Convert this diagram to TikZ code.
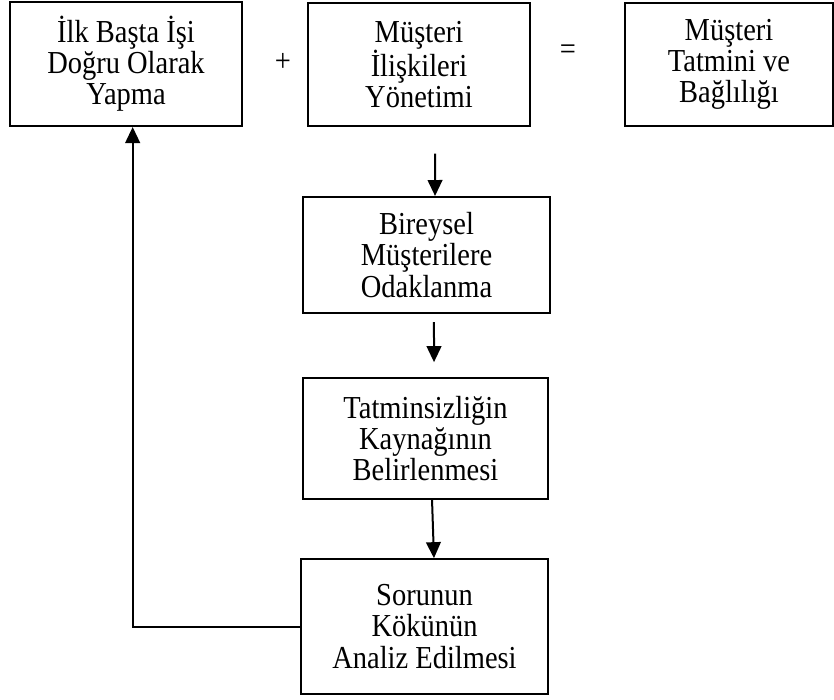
\documentclass[tikz,border=0pt]{standalone}
\usepackage{fontspec}
\setmainfont[FakeStretch=0.89]{Liberation Serif}
\usetikzlibrary{arrows.meta}
\tikzset{
  kutu/.style={draw=black, line width=1.5pt, inner sep=0pt, align=center,
    font=\fontsize{24}{23.3}\selectfont},
  isaret/.style={font=\fontsize{24}{23.3}\selectfont},
  ok/.style={line width=1.5pt, -{Triangle[length=12pt,width=11pt]}}
}
\begin{document}
\begin{tikzpicture}[x=0.75pt,y=-0.75pt]
\useasboundingbox (0,0) rectangle (834,699);
\node [kutu, minimum width=174pt, minimum height=93pt] (ilk) at (126,64) {İlk Başta İşi\\Doğru Olarak\\Yapma};
\node [isaret] (arti) at (283,62) {+};
\node [kutu, minimum width=166.5pt, minimum height=92pt] (crm) at (419,64.5) {Müşteri\\İlişkileri\\Yönetimi};
\node [isaret] (esit) at (568,52) {=};
\node [kutu, minimum width=156pt, minimum height=92pt] (tatmin) at (729,64.5) {Müşteri\\Tatmini ve\\Bağlılığı};
\node [kutu, minimum width=185pt, minimum height=87pt] (bireysel) at (426.5,255) {Bireysel\\Müşterilere\\Odaklanma};
\node [kutu, minimum width=184pt, minimum height=91pt] (kaynak) at (425.5,438.5) {Tatminsizliğin\\Kaynağının\\Belirlenmesi};
\node [kutu, minimum width=185pt, minimum height=101pt] (sorun) at (424.5,626.5) {Sorunun\\Kökünün\\Analiz Edilmesi};
% oklar
\draw [ok, shorten <=20pt] ([xshift=12pt]crm.south) -- ([xshift=6.4pt]bireysel.north);
\draw [ok, shorten <=6pt, shorten >=11pt] ([xshift=5.6pt]bireysel.south) -- ([xshift=6.4pt]kaynak.north);
\draw [ok] ([xshift=4.9pt]kaynak.south) -- ([xshift=7.1pt]sorun.north);
\draw [ok] (sorun.west) -| ([xshift=5pt]ilk.south);
\end{tikzpicture}
\end{document}
